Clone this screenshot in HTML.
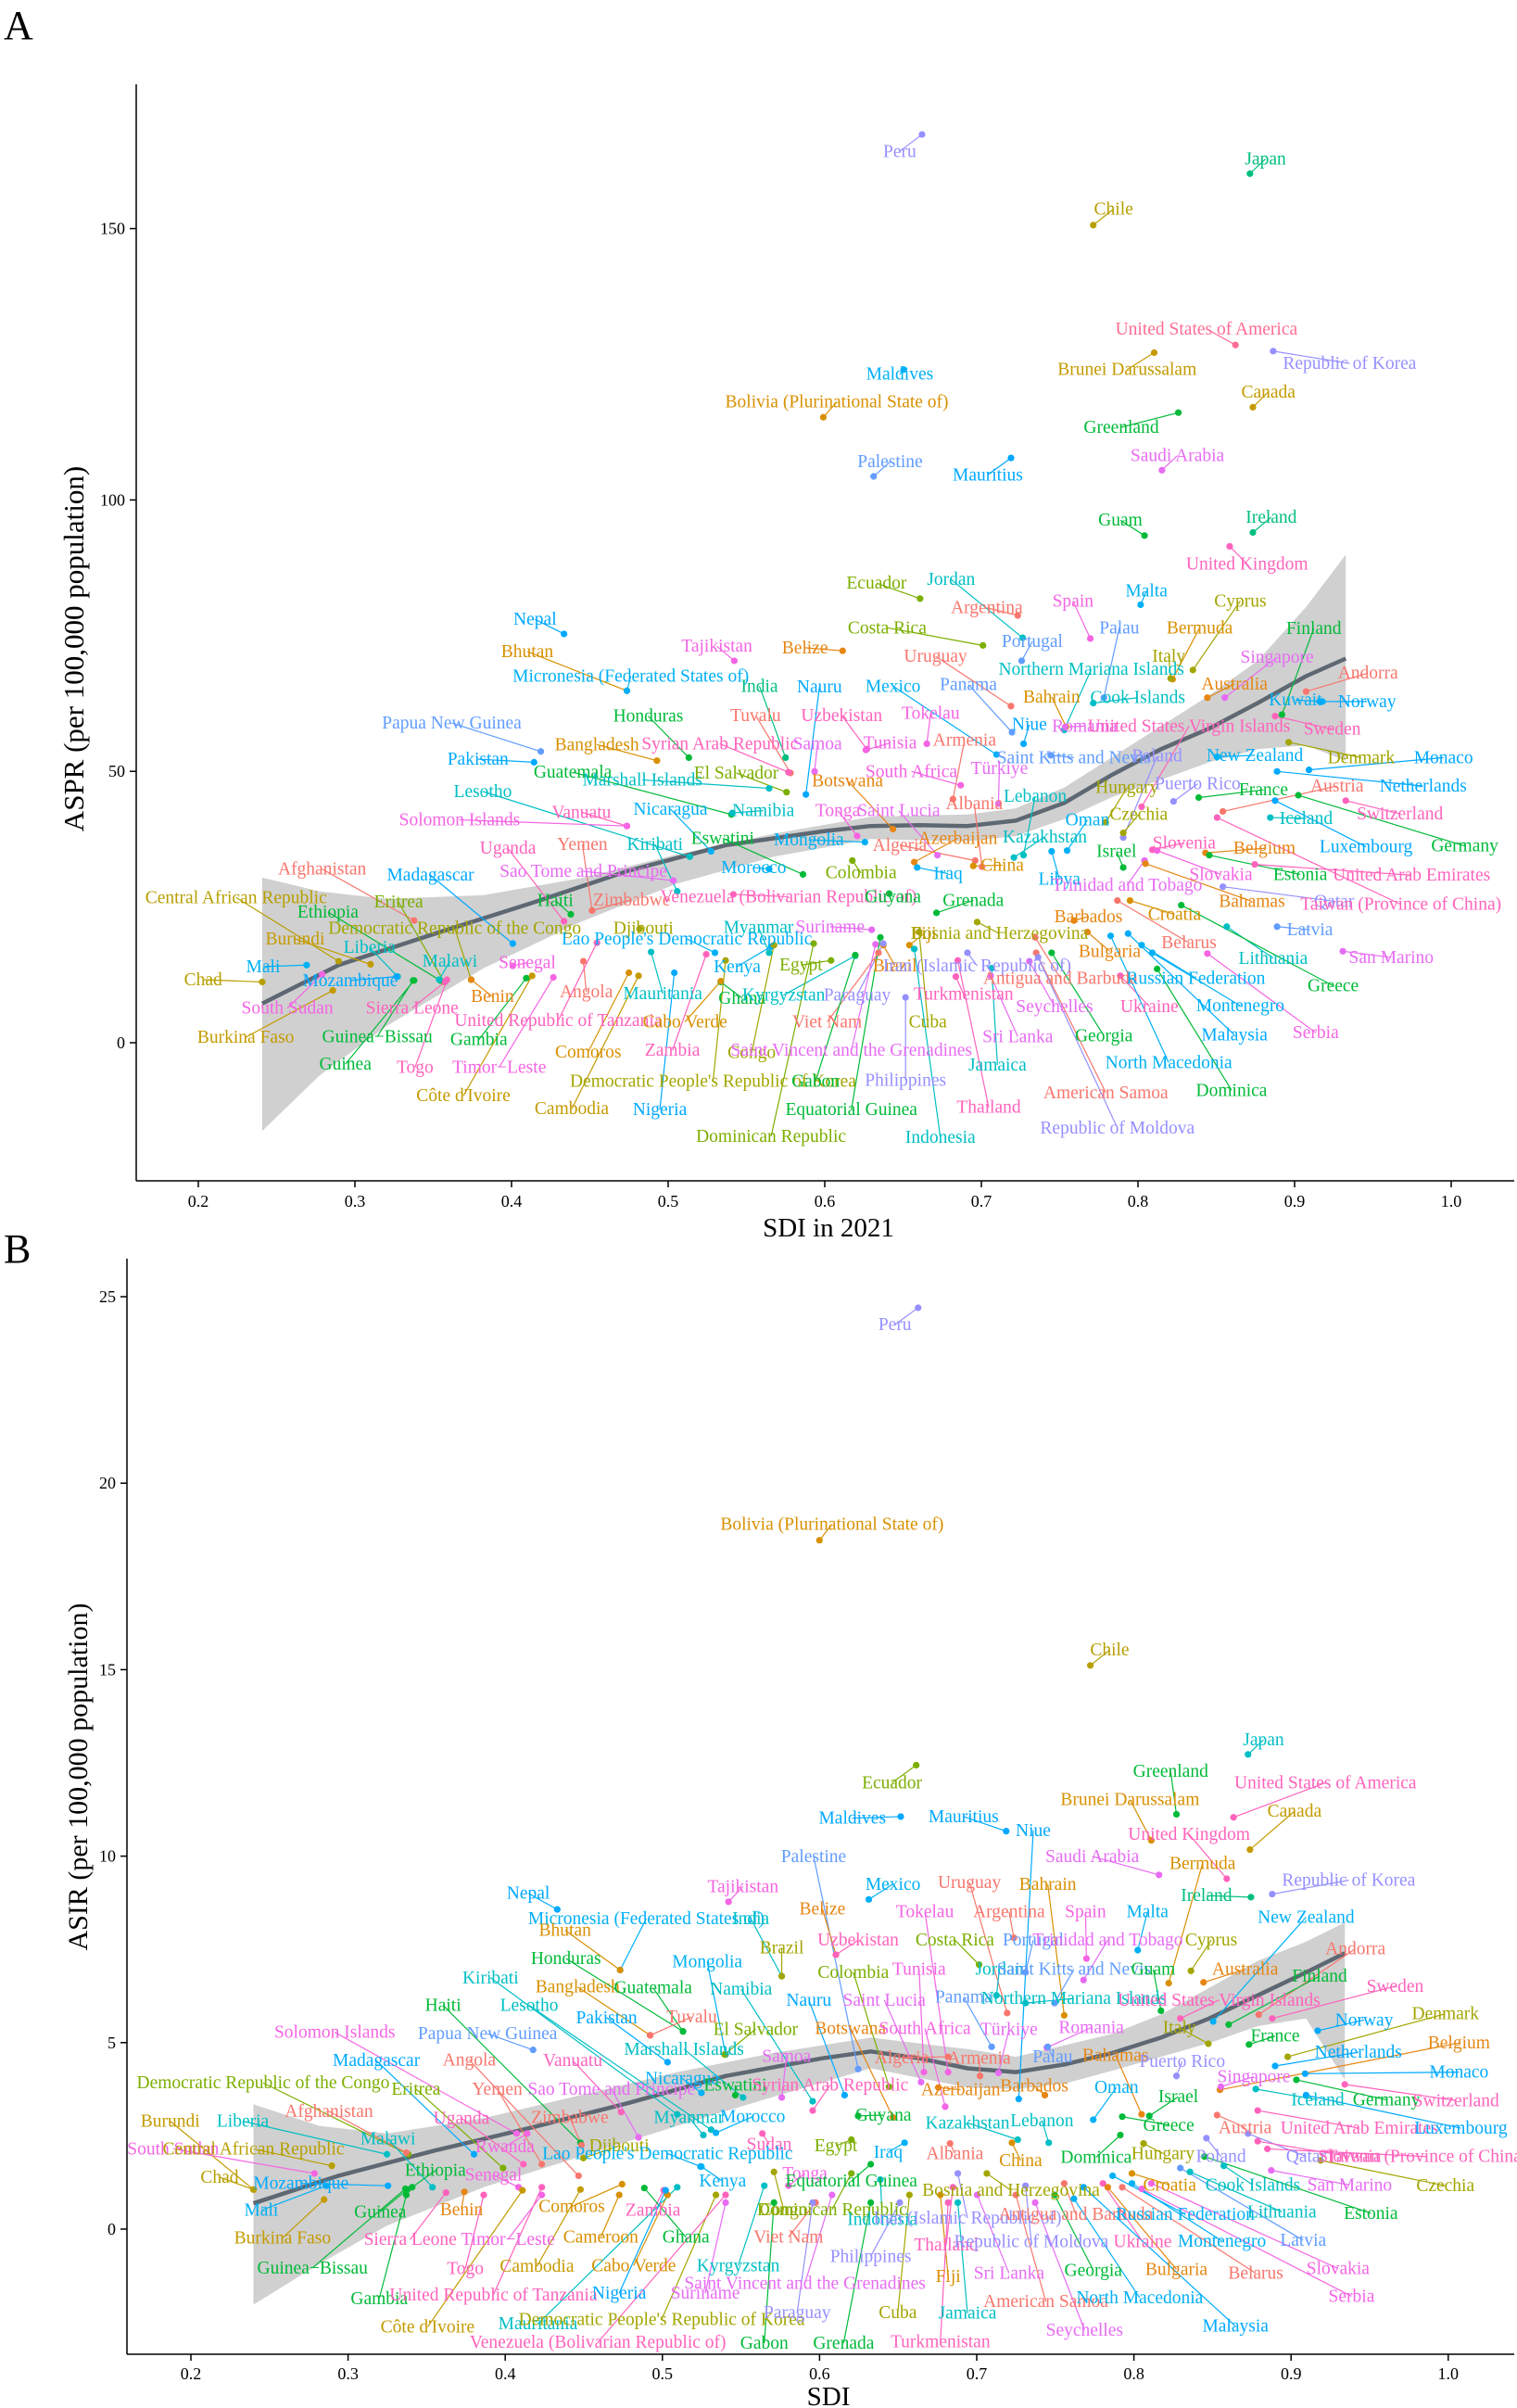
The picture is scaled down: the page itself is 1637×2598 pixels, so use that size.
<!DOCTYPE html>
<html><head><meta charset="utf-8">
<style>
html,body{margin:0;padding:0;background:#fff;}
svg{display:block;}
text{font-family:"Liberation Serif",serif;}
</style></head>
<body>
<svg id="s" width="1637" height="2598" xmlns="http://www.w3.org/2000/svg">
<rect width="1637" height="2598" fill="#fff"/>
<g id="bandA"></g><g id="linesA"></g><g id="ptsA"></g><g id="txtA"></g>
<g id="bandB"></g><g id="linesB"></g><g id="ptsB"></g><g id="txtB"></g>
<g stroke="#000" stroke-width="1.5" fill="none">
<line x1="147" y1="91" x2="147" y2="1274"/>
<line x1="147" y1="1274" x2="1634" y2="1274"/>
<line x1="137" y1="1358" x2="137" y2="2540"/>
<line x1="137" y1="2540" x2="1634" y2="2540"/>
</g>
<g id="axes"></g>
<text x="4" y="42" font-size="44">A</text>
<text x="4" y="1362" font-size="44">B</text>
<text x="894" y="1334" font-size="29" text-anchor="middle">SDI in 2021</text>
<text x="894" y="2595" font-size="29" text-anchor="middle">SDI</text>
<text transform="translate(90,700) rotate(-90)" font-size="31" text-anchor="middle">ASPR (per 100,000 population)</text>
<text transform="translate(94,1917) rotate(-90)" font-size="30" text-anchor="middle">ASIR (per 100,000 population)</text>
</svg>
<script>
var NS="http://www.w3.org/2000/svg";
function el(p,t,a,txt){var e=document.createElementNS(NS,t);for(var k in a)e.setAttribute(k,a[k]);if(txt!==undefined)e.textContent=txt;document.getElementById(p).appendChild(e);return e;}
(function(){
var ax="axes";
for(var i=0;i<9;i++){var x=214+169*i;el(ax,"line",{x1:x,y1:1274,x2:x,y2:1281,stroke:"#000","stroke-width":1.5});
el(ax,"text",{x:x,y:1302,"font-size":18,"text-anchor":"middle"},(0.2+0.1*i).toFixed(1));}
for(var k=0;k<4;k++){var y=1125-292.8*k;el(ax,"line",{x1:140,y1:y,x2:147,y2:y,stroke:"#000","stroke-width":1.5});
el(ax,"text",{x:135,y:y+6,"font-size":18,"text-anchor":"end"},String(50*k));}
for(var i=0;i<9;i++){var x=206+169.6*i;el(ax,"line",{x1:x,y1:2540,x2:x,y2:2547,stroke:"#000","stroke-width":1.5});
el(ax,"text",{x:x,y:2567,"font-size":18,"text-anchor":"middle"},(0.2+0.1*i).toFixed(1));}
for(var k=0;k<6;k++){var y=2405-201.2*k;el(ax,"line",{x1:130,y1:y,x2:137,y2:y,stroke:"#000","stroke-width":1.5});
el(ax,"text",{x:125,y:y+6,"font-size":18,"text-anchor":"end"},String(5*k));}
})();
var C={pu:"#9590FF",tg:"#00BF7D",ol:"#B79F00",rp:"#FF6C91",br:"#C49A00",bl:"#00B0F6",or:"#D89000",gr:"#00BA38",mg:"#E76BF3",b2:"#619CFF",b3:"#00A9FF",yg:"#7CAE00",tl:"#00BFC4",rd:"#F8766D",pk:"#F564E3",p2:"#FF62BC",o2:"#E68613",ao:"#A3A500"};
var A=[
["Peru",930,197,953,175,"pu"],["Japan",1308,207,1292,226,"tg"],["Chile",1151,272,1130,293,"ol"],
["United States of America",1247,428,1277,449,"rp"],["Republic of Korea",1395,473,1316,457,"pu"],["Brunei Darussalam",1165,481,1193,459,"br"],
["Maldives",930,487,934,481,"bl"],["Canada",1311,510,1295,530,"br"],["Bolivia (Plurinational State of)",865,523,851,543,"or"],
["Greenland",1159,556,1218,537,"gr"],["Saudi Arabia",1217,593,1201,612,"mg"],["Palestine",920,601,903,620,"b2"],["Mauritius",1021,618,1045,596,"b3"],
["Guam",1158,677,1183,697,"gr"],["Ireland",1314,673,1295,693,"tg"],["United Kingdom",1289,734,1271,711,"p2"],
["Ecuador",906,759,951,779,"yg"],["Jordan",983,754,1057,830,"tl"],["Argentina",1020,791,1052,801,"rd"],["Spain",1109,782,1127,831,"pk"],
["Malta",1185,769,1179,787,"bl"],["Cyprus",1282,782,1233,872,"ao"],["Nepal",553,806,583,825,"b3"],["Costa Rica",917,817,1016,840,"yg"],
["Portugal",1067,835,1056,860,"b2"],["Palau",1157,817,1141,908,"b2"],["Bermuda",1240,817,1212,884,"or"],["Finland",1358,818,1325,930,"gr"],
["Bhutan",545,848,648,899,"or"],["Tajikistan",741,841,759,860,"pk"],["Belize",832,843,871,847,"o2"],["Uruguay",967,854,1045,919,"rd"],
["Northern Mariana Islands",1128,871,1100,950,"tl"],["Italy",1208,854,1210,883,"ao"],["Singapore",1320,855,1266,908,"mg"],["Andorra",1414,876,1350,900,"rd"],
["Micronesia (Federated States of)",652,880,648,899,"bl"],["India",785,893,812,986,"tg"],["Nauru",847,894,833,1034,"b3"],["Mexico",923,893,1030,982,"bl"],
["Panama",1001,891,1046,953,"b2"],["Bahrain",1087,907,1102,946,"or"],["Cook Islands",1176,908,1130,915,"tl"],["Australia",1276,890,1248,908,"o2"],
["Kuwait",1339,911,1367,913,"bl"],["Norway",1413,913,1364,913,"b3"],["Papua New Guinea",467,941,559,978,"b2"],["Honduras",670,932,712,986,"gr"],
["Tuvalu",781,931,817,1006,"rd"],["Uzbekistan",870,931,896,975,"p2"],["Tokelau",962,928,958,968,"pk"],["Niue",1064,943,1058,968,"b3"],
["Romania",1121,945,1101,946,"mg"],["United States Virgin Islands",1229,945,1180,1050,"p2"],["Sweden",1377,949,1318,932,"p2"],
["Bangladesh",617,969,679,990,"or"],["Syrian Arab Republic",744,968,815,1005,"p2"],["Samoa",845,968,842,1004,"mg"],["Tunisia",920,967,895,976,"pk"],
["Armenia",997,963,985,1040,"rd"],["Saint Kitts and Nevis",1110,986,1086,983,"b2"],["Poland",1196,984,1161,1090,"pu"],["New Zealand",1297,983,1258,985,"bl"],
["Denmark",1407,986,1332,966,"ao"],["Monaco",1492,986,1353,1002,"b3"],["Pakistan",494,988,552,992,"b3"],["Guatemala",592,1005,756,1060,"gr"],
["Marshall Islands",664,1015,795,1026,"tl"],["El Salvador",761,1006,813,1031,"yg"],["South Africa",942,1004,993,1022,"pk"],["Türkiye",1033,1000,1032,1046,"mg"],
["Botswana",876,1016,923,1079,"o2"],["Hungary",1165,1025,1143,1070,"ao"],["Puerto Rico",1238,1020,1213,1043,"pu"],["France",1306,1028,1239,1038,"gr"],
["Austria",1382,1023,1264,1056,"rd"],["Netherlands",1471,1023,1320,1004,"b3"],["Lesotho",499,1030,713,1115,"tl"],["Vanuatu",601,1057,648,1075,"p2"],
["Nicaragua",693,1053,735,1108,"bl"],["Namibia",789,1055,757,1058,"tl"],["Tonga",866,1055,886,1088,"pk"],["Saint Lucia",929,1055,969,1113,"mg"],
["Albania",1007,1046,1015,1128,"rd"],["Lebanon",1070,1036,1058,1113,"tl"],["Oman",1124,1067,1103,1107,"bl"],["Czechia",1177,1060,1161,1084,"ao"],
["Solomon Islands",475,1067,648,1075,"pk"],["Iceland",1350,1065,1313,1064,"tl"],["Switzerland",1447,1059,1391,1042,"p2"],["Yemen",602,1099,612,1185,"rd"],
["Uganda",525,1104,583,1199,"p2"],["Kiribati",677,1099,700,1160,"tl"],["Eswatini",747,1091,830,1138,"gr"],["Mongolia",836,1093,894,1096,"bl"],
["Algeria",930,1100,1008,1120,"rd"],["Azerbaijan",990,1091,945,1122,"o2"],["Kazakhstan",1080,1089,1048,1116,"tl"],["Israel",1154,1108,1161,1129,"gr"],
["Slovenia",1224,1097,1191,1106,"p2"],["Belgium",1307,1104,1246,1110,"o2"],["Luxembourg",1412,1102,1318,1042,"b3"],["Germany",1514,1101,1342,1035,"gr"],
["Afghanistan",333,1131,428,1198,"rd"],["Madagascar",445,1139,530,1228,"b3"],["Sao Tome and Principe",603,1134,696,1146,"mg"],["Morocco",779,1129,795,1131,"bl"],
["Colombia",890,1136,881,1120,"yg"],["Iraq",980,1137,948,1129,"bl"],["China",1036,1126,1006,1127,"or"],["Libya",1095,1144,1087,1108,"bl"],
["Trinidad and Tobago",1165,1152,1183,1120,"mg"],["Slovakia",1262,1138,1196,1107,"pk"],["Estonia",1344,1138,1250,1113,"gr"],["United Arab Emirates",1459,1139,1297,1125,"p2"],
["Central African Republic",244,1168,350,1251,"ol"],["Haiti",574,1172,590,1190,"gr"],["Zimbabwe",653,1171,612,1185,"rd"],
["Venezuela (Bolivarian Republic of)",815,1167,758,1164,"p2"],["Guyana",923,1167,919,1163,"gr"],["Grenada",1006,1172,968,1188,"gr"],
["Bahamas",1294,1173,1184,1124,"o2"],["Qatar",1379,1173,1264,1154,"pu"],["Taiwan (Province of China)",1448,1177,1258,1064,"p2"],
["Eritrea",412,1174,459,1278,"yg"],["Ethiopia",339,1187,455,1276,"gr"],["Democratic Republic of the Congo",470,1208,487,1275,"ao"],
["Djibouti",665,1208,661,1209,"ao"],["Barbados",1125,1193,1110,1198,"o2"],["Croatia",1214,1190,1168,1172,"or"],["Myanmar",784,1207,795,1240,"tl"],
["Suriname",858,1206,901,1210,"mg"],["Fiji",955,1215,940,1230,"or"],["Bosnia and Herzegovina",1033,1215,1010,1200,"ao"],["Latvia",1354,1210,1320,1206,"b2"],
["Burundi",305,1222,383,1255,"br"],["Liberia",382,1233,411,1271,"tl"],["Lao People's Democratic Republic",710,1222,739,1240,"bl"],
["Bulgaria",1147,1238,1124,1213,"o2"],["Belarus",1229,1227,1155,1172,"rd"],["San Marino",1438,1246,1388,1238,"mg"],["Malawi",465,1251,454,1275,"tl"],
["Senegal",545,1253,530,1257,"pk"],["Mali",272,1258,317,1256,"bl"],["Kenya",762,1258,797,1232,"bl"],["Egypt",828,1256,859,1250,"yg"],
["Brazil",925,1257,913,1230,"o2"],["Iran (Islamic Republic of)",1010,1257,1000,1240,"pu"],["Lithuania",1316,1247,1268,1206,"tl"],["Greece",1378,1283,1221,1178,"gr"],
["Chad",210,1275,271,1278,"ol"],["Mozambique",362,1276,410,1271,"b3"],["Antigua and Barbuda",1096,1273,1070,1220,"rd"],["Russian Federation",1236,1273,1180,1230,"bl"],
["South Sudan",297,1312,333,1268,"pk"],["Sierra Leone",426,1312,460,1278,"p2"],["Benin",509,1297,487,1275,"o2"],["Angola",606,1291,603,1251,"rd"],
["Mauritania",685,1293,673,1239,"tl"],["Ghana",767,1299,745,1278,"gr"],["Kyrgyzstan",810,1295,884,1244,"tl"],["Paraguay",886,1295,913,1228,"pu"],
["Turkmenistan",996,1294,988,1271,"p2"],["Seychelles",1090,1310,1064,1251,"mg"],["Ukraine",1188,1310,1158,1270,"p2"],["Montenegro",1282,1309,1191,1240,"bl"],
["Burkina Faso",254,1350,344,1289,"br"],["Guinea−Bissau",390,1349,427,1276,"gr"],["Gambia",495,1353,544,1273,"gr"],
["United Republic of Tanzania",577,1328,617,1227,"p2"],["Cabo Verde",708,1330,745,1277,"or"],["Viet Nam",855,1330,908,1240,"rd"],["Cuba",959,1330,950,1213,"ao"],
["Sri Lanka",1052,1349,1024,1270,"mg"],["Georgia",1141,1348,1087,1240,"gr"],["Malaysia",1276,1347,1166,1215,"b3"],["Serbia",1360,1344,1248,1241,"pk"],
["Guinea",357,1385,428,1276,"gr"],["Togo",429,1389,462,1275,"p2"],["Timor−Leste",516,1389,572,1272,"pk"],["Comoros",608,1369,650,1266,"or"],
["Zambia",695,1367,730,1242,"p2"],["Congo",777,1370,800,1230,"ao"],["Saint Vincent and the Grenadines",880,1367,905,1229,"mg"],
["Jamaica",1031,1386,1025,1260,"tl"],["North Macedonia",1208,1383,1148,1218,"bl"],["Dominica",1273,1419,1196,1261,"gr"],
["Côte d'Ivoire",479,1426,550,1270,"br"],["Democratic People's Republic of Korea",737,1407,750,1250,"ao"],["Gabon",843,1407,884,1243,"gr"],
["Philippines",936,1406,936,1298,"pu"],["American Samoa",1143,1422,1071,1240,"rd"],["Cambodia",591,1443,660,1270,"br"],["Nigeria",682,1444,697,1266,"b3"],
["Equatorial Guinea",880,1444,910,1220,"gr"],["Thailand",1022,1441,990,1250,"p2"],["Republic of Moldova",1155,1468,1073,1246,"pu"],
["Dominican Republic",797,1479,841,1228,"yg"],["Indonesia",972,1480,945,1235,"tl"]];
var B=[
["Peru",925,156,949,134,"pu"],["Bolivia (Plurinational State of)",860,416,847,437,"or"],["Chile",1147,580,1127,600,"ol"],["Japan",1306,697,1290,716,"tl"],
["Ecuador",922,753,947,730,"yg"],["Greenland",1210,738,1216,794,"gr"],["United States of America",1370,753,1275,798,"p2"],["Brunei Darussalam",1168,775,1190,828,"or"],
["Canada",1338,790,1292,840,"br"],["Maldives",881,799,931,797,"b3"],["Mauritius",996,797,1040,816,"b3"],["Niue",1068,815,1053,1165,"b3"],
["United Kingdom",1229,820,1268,878,"p2"],["Palestine",841,849,887,1126,"b2"],["Saudi Arabia",1129,849,1198,873,"mg"],["Bermuda",1243,858,1208,1014,"or"],
["Nepal",546,897,576,918,"b3"],["Tajikistan",768,888,753,908,"pk"],["Mexico",923,885,898,905,"bl"],["Uruguay",1002,883,1041,1053,"rd"],
["Bahrain",1083,885,1100,1056,"or"],["Republic of Korea",1394,880,1315,898,"pu"],["Ireland",1247,900,1293,902,"tg"],["Belize",850,917,864,977,"o2"],
["Tokelau",956,921,980,1130,"pk"],["Argentina",1043,921,1048,955,"rd"],["Spain",1122,921,1123,982,"pk"],["Malta",1186,921,1176,971,"bl"],
["New Zealand",1350,928,1254,1064,"bl"],["Micronesia (Federated States of)",668,930,641,997,"bl"],["India",776,930,808,1005,"tl"],["Bhutan",584,945,641,997,"or"],
["Uzbekistan",887,958,864,977,"p2"],["Costa Rica",987,958,1012,990,"yg"],["Portugal",1068,958,1060,1000,"b2"],["Trinidad and Tobago",1145,958,1120,1010,"mg"],
["Cyprus",1252,958,1231,998,"ao"],["Andorra",1401,969,1301,1055,"rd"],["Brazil",808,968,808,1005,"ao"],["Honduras",585,982,706,1077,"gr"],
["Mongolia",731,986,750,1107,"bl"],["Colombia",882,1000,919,1149,"yg"],["Tunisia",950,996,955,1130,"pk"],["Jordan",1033,996,1030,1030,"tl"],
["Saint Kitts and Nevis",1110,996,1090,1040,"b2"],["Guam",1192,996,1200,1050,"gr"],["Australia",1287,996,1244,1013,"o2"],["Finland",1364,1005,1270,1068,"gr"],
["Sweden",1442,1018,1315,1060,"p2"],["Kiribati",507,1007,700,1185,"tl"],["Bangladesh",597,1019,672,1082,"or"],["Guatemala",675,1020,706,1077,"gr"],
["Namibia",766,1022,840,1168,"tl"],["Nauru",836,1036,873,1160,"b3"],["Saint Lucia",914,1036,952,1143,"mg"],["Panama",996,1032,1025,1097,"b2"],
["Northern Mariana Islands",1110,1034,1060,1040,"tl"],["United States Virgin Islands",1260,1036,1220,1060,"p2"],["Haiti",458,1043,600,1222,"gr"],
["Lesotho",547,1043,735,1205,"tl"],["Pakistan",627,1059,690,1117,"b3"],["Tuvalu",715,1058,672,1082,"rd"],["Norway",1410,1062,1362,1076,"b3"],
["Denmark",1494,1054,1331,1110,"ao"],["El Salvador",781,1074,749,1107,"yg"],["Botswana",879,1073,923,1189,"o2"],["South Africa",956,1073,977,1175,"pk"],
["Türkiye",1043,1074,1032,1131,"mg"],["Romania",1128,1072,1082,1098,"mg"],["Solomon Islands",346,1078,534,1210,"pk"],["Papua New Guinea",504,1080,551,1101,"b2"],
["Italy",1219,1072,1249,1093,"ao"],["France",1318,1083,1291,1094,"gr"],["Belgium",1508,1092,1261,1153,"o2"],["Marshall Islands",707,1100,768,1163,"tl"],
["Madagascar",389,1115,490,1237,"b3"],["Angola",485,1114,598,1265,"rd"],["Vanuatu",592,1115,642,1182,"p2"],["Samoa",813,1109,808,1163,"mg"],
["Algeria",932,1111,980,1110,"rd"],["Armenia",1012,1112,1013,1135,"rd"],["Palau",1088,1110,1083,1097,"b2"],["Bahamas",1153,1108,1180,1185,"o2"],
["Puerto Rico",1222,1116,1216,1135,"pu"],["Netherlands",1404,1104,1318,1122,"b3"],["Nicaragua",705,1138,725,1157,"bl"],
["Democratic Republic of the Congo",272,1144,422,1237,"yg"],["Eritrea",430,1152,520,1255,"yg"],["Yemen",514,1152,560,1250,"rd"],
["Sao Tome and Principe",632,1152,660,1215,"mg"],["Eswatini",760,1147,760,1160,"gr"],["Syrian Arab Republic",858,1147,840,1180,"p2"],
["Barbados",1069,1148,1080,1160,"o2"],["Azerbaijan",993,1153,970,1150,"o2"],["Oman",1154,1150,1130,1192,"bl"],["Singapore",1296,1136,1262,1149,"mg"],
["Monaco",1508,1130,1349,1132,"b3"],["Germany",1433,1166,1340,1140,"gr"],["Switzerland",1505,1167,1390,1146,"p2"],["Israel",1218,1162,1188,1187,"gr"],
["Iceland",1362,1166,1298,1152,"tl"],["Afghanistan",340,1181,420,1235,"rd"],["Uganda",477,1190,541,1250,"p2"],["Zimbabwe",589,1189,601,1225,"rd"],
["Myanmar",712,1189,727,1212,"tl"],["Morocco",778,1188,740,1209,"bl"],["Guyana",913,1186,887,1187,"gr"],["Kazakhstan",1000,1196,1052,1218,"tl"],
["Lebanon",1077,1193,1084,1222,"tl"],["Greece",1208,1199,1160,1188,"gr"],["Austria",1287,1202,1258,1186,"rd"],["United Arab Emirates",1405,1203,1300,1180,"p2"],
["Luxembourg",1510,1203,1350,1160,"b3"],["Burundi",176,1194,262,1283,"br"],["Liberia",251,1194,400,1237,"tl"],["Malawi",401,1217,447,1280,"tl"],
["Djibouti",640,1226,603,1242,"ao"],["Sudan",795,1224,788,1210,"p2"],["Egypt",864,1226,880,1218,"yg"],["South Sudan",179,1230,325,1262,"pk"],
["Central African Republic",262,1230,343,1252,"ol"],["Lao People's Democratic Republic",690,1236,724,1253,"bl"],["Rwanda",522,1227,545,1210,"pk"],
["Iraq",918,1234,935,1222,"bl"],["Albania",987,1236,982,1223,"rd"],["Dominica",1133,1241,1158,1212,"gr"],["Hungary",1202,1236,1182,1223,"ao"],
["Poland",1262,1240,1247,1216,"pu"],["Qatar",1350,1240,1290,1210,"pu"],["Slovenia",1395,1240,1300,1220,"p2"],["Taiwan (Province of China)",1475,1240,1310,1230,"p2"],
["China",1055,1245,1046,1222,"or"],["Ethiopia",450,1258,426,1280,"gr"],["Senegal",510,1264,536,1280,"pk"],["Chad",227,1267,262,1283,"ol"],
["Kenya",747,1272,725,1253,"bl"],["Tonga",832,1262,815,1278,"pk"],["Equatorial Guinea",880,1272,900,1250,"gr"],["Croatia",1209,1277,1170,1262,"or"],
["Cook Islands",1295,1277,1265,1252,"tl"],["San Marino",1395,1277,1314,1258,"mg"],["Czechia",1494,1278,1365,1245,"ao"],["Mozambique",311,1275,401,1278,"b3"],
["Mali",270,1310,337,1278,"bl"],["Guinea",393,1312,421,1283,"gr"],["Benin",477,1309,480,1286,"o2"],["Comoros",591,1305,643,1276,"or"],
["Zambia",675,1310,686,1284,"p2"],["Congo",810,1309,800,1260,"ao"],["Dominican Republic",860,1309,880,1262,"yg"],["Indonesia",912,1322,910,1270,"tl"],
["Iran (Islamic Republic of)",1000,1320,990,1262,"pu"],["Bosnia and Herzegovina",1045,1284,1020,1262,"ao"],["Antigua and Barbuda",1112,1315,1100,1275,"rd"],
["Russian Federation",1225,1315,1150,1265,"bl"],["Lithuania",1325,1312,1230,1260,"tl"],["Estonia",1417,1314,1245,1240,"gr"],["Sierra Leone",424,1348,461,1287,"p2"],
["Timor−Leste",525,1348,560,1290,"pk"],["Cameroon",621,1345,640,1290,"or"],["Ghana",709,1345,666,1281,"gr"],["Viet Nam",815,1345,843,1300,"rd"],
["Thailand",978,1355,985,1280,"p2"],["Republic of Moldova",1066,1351,1060,1278,"pu"],["Ukraine",1181,1351,1140,1275,"p2"],["Montenegro",1263,1350,1170,1275,"bl"],
["Latvia",1347,1349,1220,1255,"b2"],["Burkina Faso",292,1346,335,1296,"br"],["Guinea−Bissau",323,1385,419,1282,"gr"],["Togo",481,1386,500,1290,"p2"],
["Cambodia",555,1383,600,1283,"br"],["Cabo Verde",655,1382,690,1290,"or"],["Kyrgyzstan",763,1382,790,1278,"tl"],["Philippines",900,1370,930,1300,"pu"],
["Fiji",980,1396,972,1290,"or"],["Sri Lanka",1043,1392,1010,1290,"mg"],["Georgia",1130,1388,1090,1290,"gr"],["Bulgaria",1216,1387,1145,1280,"o2"],
["Belarus",1298,1392,1160,1280,"rd"],["Slovakia",1383,1386,1190,1275,"pk"],["Gambia",392,1425,420,1290,"gr"],["United Republic of Tanzania",510,1420,560,1280,"p2"],
["Nigeria",640,1418,688,1284,"b3"],["Suriname",729,1418,750,1300,"mg"],["Saint Vincent and the Grenadines",832,1405,860,1290,"mg"],
["American Samoa",1081,1429,1050,1290,"rd"],["North Macedonia",1178,1424,1110,1295,"bl"],["Serbia",1397,1422,1180,1282,"pk"],
["Côte d'Ivoire",442,1462,540,1284,"br"],["Mauritania",556,1458,700,1280,"tl"],["Democratic People's Republic of Korea",684,1452,740,1290,"ao"],
["Paraguay",824,1443,840,1300,"pu"],["Cuba",928,1443,940,1290,"ao"],["Jamaica",1000,1444,990,1300,"tl"],["Seychelles",1121,1466,1070,1300,"mg"],
["Malaysia",1277,1461,1120,1280,"b3"],["Venezuela (Bolivarian Republic of)",618,1482,750,1290,"p2"],["Gabon",790,1483,800,1300,"gr"],
["Grenada",872,1483,900,1300,"gr"],["Turkmenistan",972,1481,980,1300,"p2"]];
function draw(data,sx,sy,oy,suf){
 data.forEach(function(d){
  var lx=d[1]*sx,ly=oy+d[2]*sy,px=d[3]*sx,py=oy+d[4]*sy,c=C[d[5]];
  el("lines"+suf,"line",{x1:lx,y1:ly,x2:px,y2:py,stroke:c,"stroke-width":1.2});
  el("pts"+suf,"circle",{cx:px,cy:py,r:3.6,fill:c});
  el("txt"+suf,"text",{x:lx,y:ly+6,"font-size":19.5,"text-anchor":"middle",fill:c},d[0]);
 });
}
function band(suf,up,lo,ln,sx,sy,oy){
 var pts=up.concat(lo).map(function(p){return (p[0]*sx).toFixed(1)+","+(oy+p[1]*sy).toFixed(1);}).join(" ");
 el("band"+suf,"polygon",{points:pts,fill:"#d0d0d0"});
 var l=ln.map(function(p){return (p[0]*sx).toFixed(1)+","+(oy+p[1]*sy).toFixed(1);}).join(" ");
 el("band"+suf,"polyline",{points:l,fill:"none",stroke:"#5e6872","stroke-width":4.5,"stroke-linejoin":"round"});
}
var sx=1.044;
band("A",[[271,1142],[330,1160],[400,1170],[500,1165],[600,1143],[700,1112],[800,1085],[900,1063],[1000,1060],[1050,1052],[1100,1025],[1150,985],[1200,945],[1250,905],[1300,860],[1350,790],[1391,722]],
[[1391,990],[1350,970],[1300,975],[1250,992],[1200,1015],[1150,1037],[1100,1066],[1050,1088],[1000,1095],[900,1092],[800,1115],[700,1150],[600,1200],[500,1260],[400,1335],[330,1400],[271,1472]],
[[271,1306],[350,1256],[450,1215],[550,1175],[650,1133],[750,1100],[850,1082],[900,1075],[950,1074],[1000,1075],[1050,1068],[1100,1045],[1150,1008],[1200,975],[1250,948],[1300,915],[1350,880],[1391,857]],sx,0.829,0);
band("B",[[262,1172],[330,1200],[400,1210],[500,1190],[600,1160],[700,1130],[800,1105],[900,1085],[1000,1100],[1050,1110],[1100,1095],[1150,1080],[1200,1055],[1250,1020],[1300,985],[1350,960],[1390,935]],
[[1390,1140],[1350,1060],[1300,1070],[1250,1092],[1200,1110],[1150,1128],[1100,1145],[1050,1152],[1000,1150],[900,1125],[800,1162],[700,1200],[600,1240],[500,1280],[400,1330],[330,1380],[262,1433]],
[[262,1301],[350,1265],[450,1232],[550,1202],[650,1170],[750,1135],[850,1112],[900,1103],[950,1112],[1000,1125],[1050,1130],[1100,1120],[1150,1105],[1200,1085],[1250,1060],[1300,1030],[1350,1000],[1390,975]],sx,0.828,1300);
draw(A,sx,0.829,0,"A");
draw(B,sx,0.828,1300,"B");
</script>
</body></html>
